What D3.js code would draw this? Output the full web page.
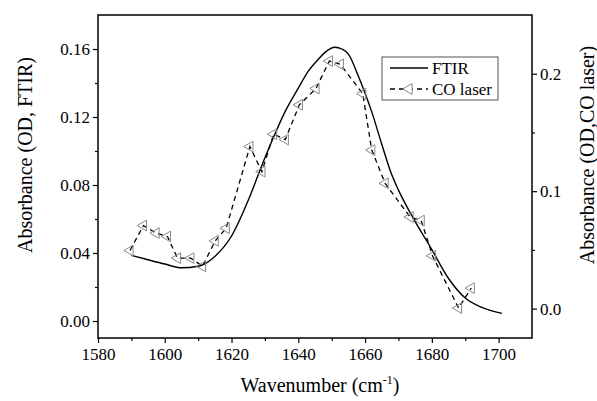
<!DOCTYPE html>
<html>
<head>
<meta charset="utf-8">
<script src="https://cdn.jsdelivr.net/npm/d3@7"></script>
<style>
  body { margin: 0; background: #fff; }
</style>
</head>
<body>
<div id="grafico"></div>
<script>
// FTIR spectrum (left axis)
const ftirWave = [1590, 1595, 1600, 1605, 1610, 1615, 1620, 1625, 1628, 1630, 1633, 1636, 1640, 1643, 1646, 1648, 1651, 1653, 1655, 1658, 1660, 1662, 1665, 1668, 1670, 1674, 1680, 1685, 1690, 1695, 1701];
const ftirAbs = [0.0386, 0.036, 0.0335, 0.0313, 0.0322, 0.038, 0.050, 0.071, 0.086, 0.096, 0.110, 0.123, 0.137, 0.147, 0.154, 0.158, 0.161, 0.160, 0.157, 0.144, 0.134, 0.123, 0.104, 0.086, 0.077, 0.062, 0.042, 0.025, 0.0135, 0.008, 0.0045];

// CO laser points (right axis)
const coWave = [1589.6, 1593.6, 1597.4, 1600.8, 1603.8, 1607.8, 1611.3, 1615.1, 1618.4, 1625.5, 1629.1, 1632.6, 1636.1, 1640.3, 1645.3, 1649.3, 1652.6, 1659.3, 1662.0, 1666.0, 1673.5, 1676.8, 1680.2, 1688.0, 1691.8];
const coAbs = [0.0495, 0.0707, 0.0643, 0.0614, 0.043, 0.043, 0.036, 0.0577, 0.0685, 0.138, 0.1166, 0.1486, 0.144, 0.1735, 0.1874, 0.2108, 0.208, 0.183, 0.135, 0.1067, 0.078, 0.0750, 0.045, 0.0005, 0.0175];

const xTicks = [1580, 1600, 1620, 1640, 1660, 1680, 1700];
const yLeftTicks = [0.00, 0.04, 0.08, 0.12, 0.16];
const yRightTicks = [0.0, 0.1, 0.2];

const fonte = '"Liberation Serif"';

function desenhar() {
  const largura = 597, altura = 401;
  const margem = { top: 15, right: 65, bottom: 63, left: 98 };
  const w = largura - margem.left - margem.right;
  const h = altura - margem.top - margem.bottom;

  const svg = d3.select('#grafico').append('svg')
    .attr('width', largura).attr('height', altura);
  const g = svg.append('g')
    .attr('transform', `translate(${margem.left},${margem.top})`);

  const x = d3.scaleLinear().domain([1580, 1710]).range([0, w]);
  const yL = d3.scaleLinear().domain([-0.01, 0.18]).range([h, 0]);
  const yR = d3.scaleLinear().domain([-0.025, 0.25]).range([h, 0]);

  // eixos: ticks menores primeiro
  const minor = (axis, sel) => { sel.call(axis); sel.selectAll('text').remove(); sel.select('.domain').remove(); };
  minor(d3.axisBottom(x).tickValues(d3.range(1590, 1710, 20)).tickSize(3), g.append('g').attr('transform', `translate(0,${h})`));
  minor(d3.axisLeft(yL).tickValues([0.02, 0.06, 0.10, 0.14]).tickSize(3), g.append('g'));
  minor(d3.axisRight(yR).tickValues([0.05, 0.15]).tickSize(3), g.append('g').attr('transform', `translate(${w},0)`));

  const ax = g.append('g').attr('transform', `translate(0,${h})`)
    .call(d3.axisBottom(x).tickValues(xTicks).tickSize(5).tickPadding(5).tickFormat(d3.format('d')));
  const ayl = g.append('g')
    .call(d3.axisLeft(yL).tickValues(yLeftTicks).tickSize(5).tickPadding(3).tickFormat(d3.format('.2f')));
  const ayr = g.append('g').attr('transform', `translate(${w},0)`)
    .call(d3.axisRight(yR).tickValues(yRightTicks).tickSize(5).tickPadding(3).tickFormat(d3.format('.1f')));
  [ax, ayl, ayr].forEach(a => {
    a.attr('font-family', fonte).attr('font-size', 17);
    a.selectAll('text').attr('font-family', fonte).attr('fill', '#000');
    a.select('.domain').remove();
  });
  g.selectAll('.tick line').attr('stroke', '#000').attr('stroke-width', 1.2);

  // moldura
  g.append('rect').attr('width', w).attr('height', h)
    .attr('fill', 'none').attr('stroke', '#000').attr('stroke-width', 1.5);

  // FTIR
  const ftir = ftirWave.map((d, i) => [d, ftirAbs[i]]);
  g.append('path').datum(ftir)
    .attr('fill', 'none').attr('stroke', '#000').attr('stroke-width', 1.4)
    .attr('d', d3.line().x(d => x(d[0])).y(d => yL(d[1])).curve(d3.curveMonotoneX));

  // CO laser
  const co = coWave.map((d, i) => [d, coAbs[i]]);
  g.append('path').datum(co)
    .attr('fill', 'none').attr('stroke', '#000').attr('stroke-width', 1.3)
    .attr('stroke-dasharray', '5,4')
    .attr('d', d3.line().x(d => x(d[0])).y(d => yR(d[1])));

  const tri = d3.symbol().type(d3.symbolTriangle).size(50);
  g.selectAll('.mk').data(co).enter().append('path')
    .attr('class', 'mk')
    .attr('d', tri)
    .attr('transform', d => `translate(${x(d[0])},${yR(d[1])}) rotate(-90)`)
    .attr('fill', 'none').attr('stroke', '#888').attr('stroke-width', 1);

  // legenda
  const leg = svg.append('g').attr('transform', 'translate(382,57)');
  leg.append('rect').attr('width', 116).attr('height', 43)
    .attr('fill', '#fff').attr('stroke', '#555').attr('stroke-width', 1);
  leg.append('line').attr('x1', 8).attr('x2', 46).attr('y1', 11).attr('y2', 11)
    .attr('stroke', '#000').attr('stroke-width', 1.4);
  leg.append('text').attr('x', 50).attr('y', 17)
    .attr('font-family', fonte).attr('font-size', 17).text('FTIR');
  leg.append('line').attr('x1', 8).attr('x2', 46).attr('y1', 32).attr('y2', 32)
    .attr('stroke', '#000').attr('stroke-width', 1.3).attr('stroke-dasharray', '5,4');
  leg.append('path').attr('d', tri).attr('transform', 'translate(27,32) rotate(-90)')
    .attr('fill', '#fff').attr('stroke', '#888');
  leg.append('text').attr('x', 50).attr('y', 38)
    .attr('font-family', fonte).attr('font-size', 17).text('CO laser');

  // títulos
  const xt = svg.append('text').attr('x', 320).attr('y', 392)
    .attr('text-anchor', 'middle').attr('font-family', fonte).attr('font-size', 20);
  xt.append('tspan').text('Wavenumber (cm');
  xt.append('tspan').attr('dy', -8).attr('font-size', 12).text('-1');
  xt.append('tspan').attr('dy', 8).text(')');

  svg.append('text').attr('transform', 'translate(32,155) rotate(-90)')
    .attr('text-anchor', 'middle').attr('font-family', fonte).attr('font-size', 20)
    .text('Absorbance (OD, FTIR)');
  svg.append('text').attr('transform', 'translate(594,155) rotate(-90)')
    .attr('text-anchor', 'middle').attr('font-family', fonte).attr('font-size', 20)
    .text('Absorbance (OD,CO laser)');
}

desenhar();
</script>
</body>
</html>
